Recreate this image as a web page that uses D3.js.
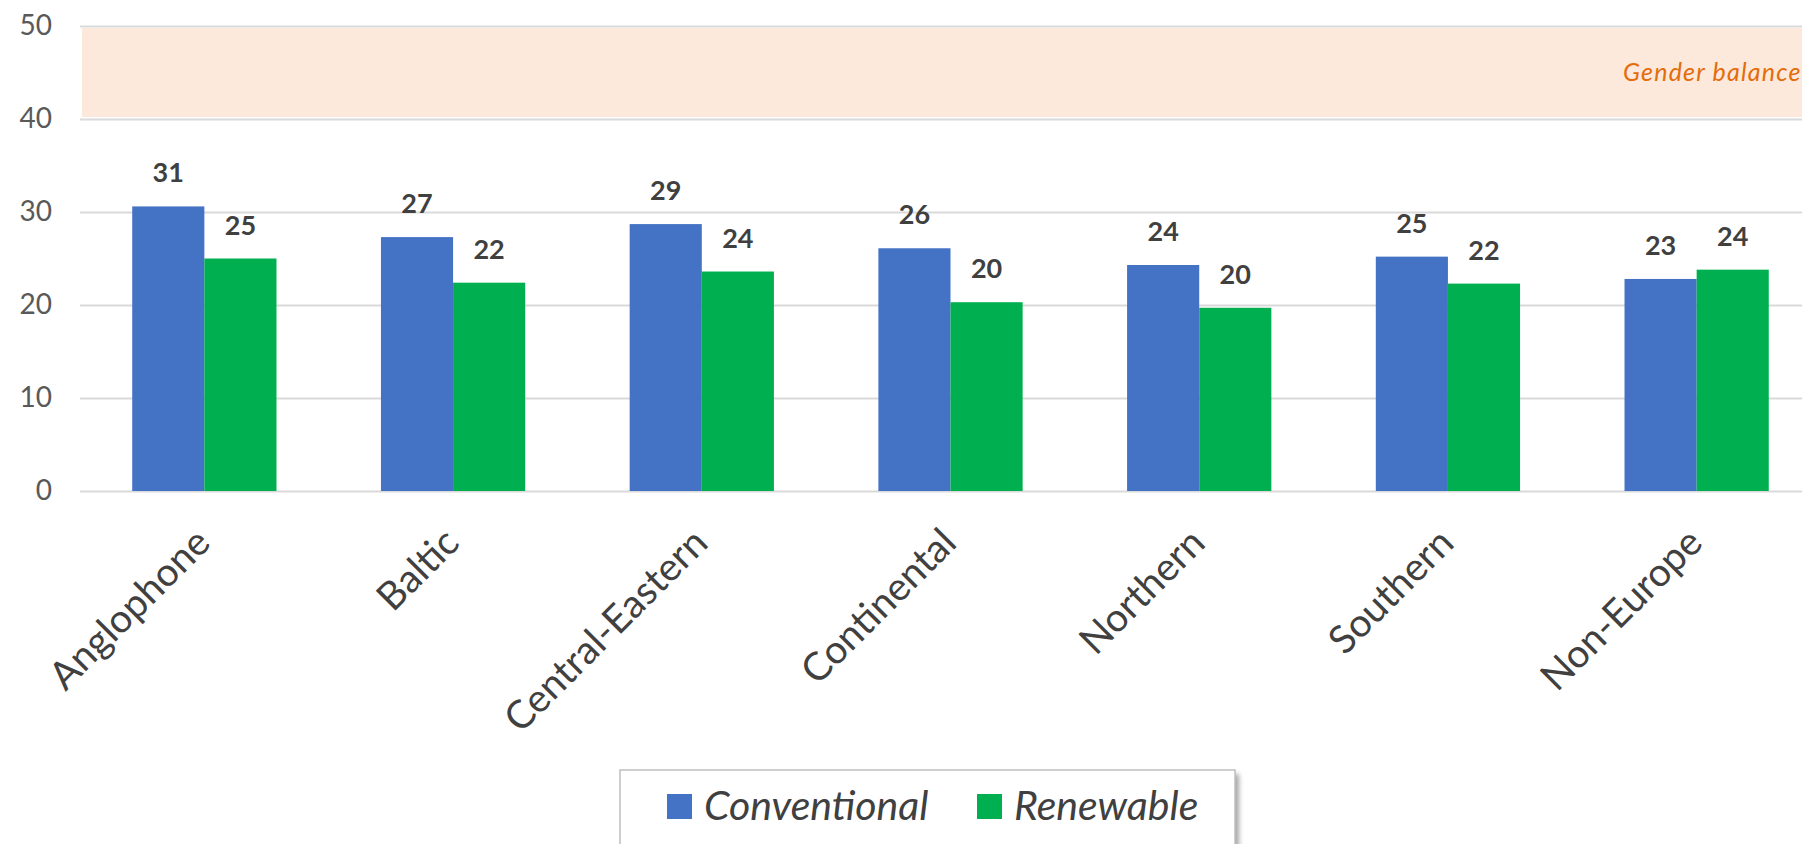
<!DOCTYPE html>
<html>
<head>
<meta charset="utf-8">
<script src="https://cdn.jsdelivr.net/npm/d3@7/dist/d3.min.js"></script>
<style>
	html, body { margin: 0; padding: 0; background: #fff; }
	svg { display: block; font-family: Lato, 'Open Sans', sans-serif; }
</style>
</head>
<body>
<svg id="chart"></svg>
<script>
	// Regions shown along the x axis
	var categories = ['Anglophone', 'Baltic', 'Central-Eastern', 'Continental', 'Northern', 'Southern', 'Non-Europe'];
	// Series names and their values
	var seriesNames = ['Conventional', 'Renewable'];
	var conventional = [30.6, 27.3, 28.7, 26.1, 24.3, 25.2, 22.8];
	var renewable = [25.0, 22.4, 23.6, 20.3, 19.7, 22.3, 23.8];
	// Tick values for the y axis
	var yTicks = [0, 10, 20, 30, 40, 50];
	// The shaded target zone
	var balanceBand = [40, 50];
	var balanceLabel = 'Gender balance';

	var WIDTH = 1802;
	var HEIGHT = 844;
	var COLORS = { Conventional: '#4472C4', Renewable: '#00B050' };

	var svg = d3.select('#chart').attr('width', WIDTH).attr('height', HEIGHT);

	// The plot runs off the right side of the picture, like the original
	var x = d3.scaleBand().domain(categories).range([80, 1821]).paddingInner(0.42).paddingOuter(0.21);
	var xInner = d3.scaleBand().domain(seriesNames).range([0, x.bandwidth()]);
	var y = d3.scaleLinear().domain([0, 50]).range([491, 26]);

	var rows = categories.map(function (c, i) {
		return { category: c, values: [
			{ name: 'Conventional', value: conventional[i] },
			{ name: 'Renewable', value: renewable[i] }
		] };
	});

	// Shaded gender balance zone between 40 and 50
	svg.append('rect')
		.attr('x', x.range()[0] + 2)
		.attr('y', y(balanceBand[1]) + 2)
		.attr('width', x.range()[1] - x.range()[0])
		.attr('height', y(balanceBand[0]) - y(balanceBand[1]) - 4)
		.attr('fill', '#FCE9DC');

	svg.append('text')
		.attr('x', 1623)
		.attr('y', y((balanceBand[0] + balanceBand[1]) / 2))
		.attr('dy', '0.35em')
		.attr('font-size', 25)
		.attr('font-style', 'italic')
		.attr('letter-spacing', 1.2)
		.attr('fill', '#E46C0A')
		.text(balanceLabel);

	// Gridlines and y tick labels through a d3 axis
	var yAxis = svg.append('g')
		.attr('transform', 'translate(' + x.range()[0] + ',0)')
		.call(d3.axisLeft(y).tickValues(yTicks).tickSize(-(x.range()[1] - x.range()[0])).tickPadding(28));
	yAxis.select('.domain').remove();
	yAxis.selectAll('.tick line').attr('stroke', '#D9D9D9').attr('stroke-width', 2);
	yAxis.selectAll('.tick text')
		.attr('font-family', 'Lato, sans-serif')
		.attr('font-size', 28)
		.attr('fill', '#595959');

	// Bars
	var groups = svg.append('g').selectAll('g').data(rows).enter().append('g')
		.attr('transform', function (d) { return 'translate(' + x(d.category) + ',0)'; });

	groups.selectAll('rect').data(function (d) { return d.values; }).enter().append('rect')
		.attr('x', function (d) { return xInner(d.name); })
		.attr('y', function (d) { return y(d.value); })
		.attr('width', xInner.bandwidth())
		.attr('height', function (d) { return y(0) - y(d.value); })
		.attr('fill', function (d) { return COLORS[d.name]; });

	// Value labels above each bar
	groups.selectAll('text').data(function (d) { return d.values; }).enter().append('text')
		.attr('x', function (d) { return xInner(d.name) + xInner.bandwidth() / 2; })
		.attr('y', function (d) { return y(d.value) - 24; })
		.attr('text-anchor', 'middle')
		.attr('font-size', 27)
		.attr('font-weight', 'bold')
		.attr('fill', '#404040')
		.text(function (d) { return Math.round(d.value); });

	// Rotated category labels
	svg.append('g').selectAll('text').data(categories).enter().append('text')
		.attr('transform', function (d) {
			return 'translate(' + (x(d) + x.bandwidth() / 2 + 8) + ',' + (y(0) + 54) + ') rotate(-45)';
		})
		.attr('text-anchor', 'end')
		.attr('font-size', 39)
		.attr('fill', '#404040')
		.text(function (d) { return d; });

	// Legend box with a soft shadow
	var defs = svg.append('defs');
	defs.append('filter').attr('id', 'shadow').attr('x', '-10%').attr('y', '-10%').attr('width', '130%').attr('height', '140%')
		.append('feGaussianBlur').attr('stdDeviation', 2.5);

	var legend = svg.append('g').attr('transform', 'translate(620,770)');
	legend.append('rect')
		.attr('x', 4).attr('y', 4).attr('width', 615).attr('height', 100)
		.attr('fill', '#A6A6A6').attr('filter', 'url(#shadow)');
	legend.append('rect')
		.attr('width', 615).attr('height', 100)
		.attr('fill', '#fff').attr('stroke', '#BFBFBF').attr('stroke-width', 1.5);

	var legendOffsets = [47, 357];
	var items = legend.selectAll('g.item').data(seriesNames).enter().append('g')
		.attr('class', 'item')
		.attr('transform', function (d, i) { return 'translate(' + legendOffsets[i] + ',0)'; });
	items.append('rect')
		.attr('x', 0).attr('y', 24).attr('width', 25).attr('height', 25)
		.attr('fill', function (d) { return COLORS[d]; });
	items.append('text')
		.attr('x', 37).attr('y', 50)
		.attr('font-size', 41)
		.attr('font-style', 'italic')
		.attr('fill', '#404040')
		.text(function (d) { return d; });
</script>
</body>
</html>
